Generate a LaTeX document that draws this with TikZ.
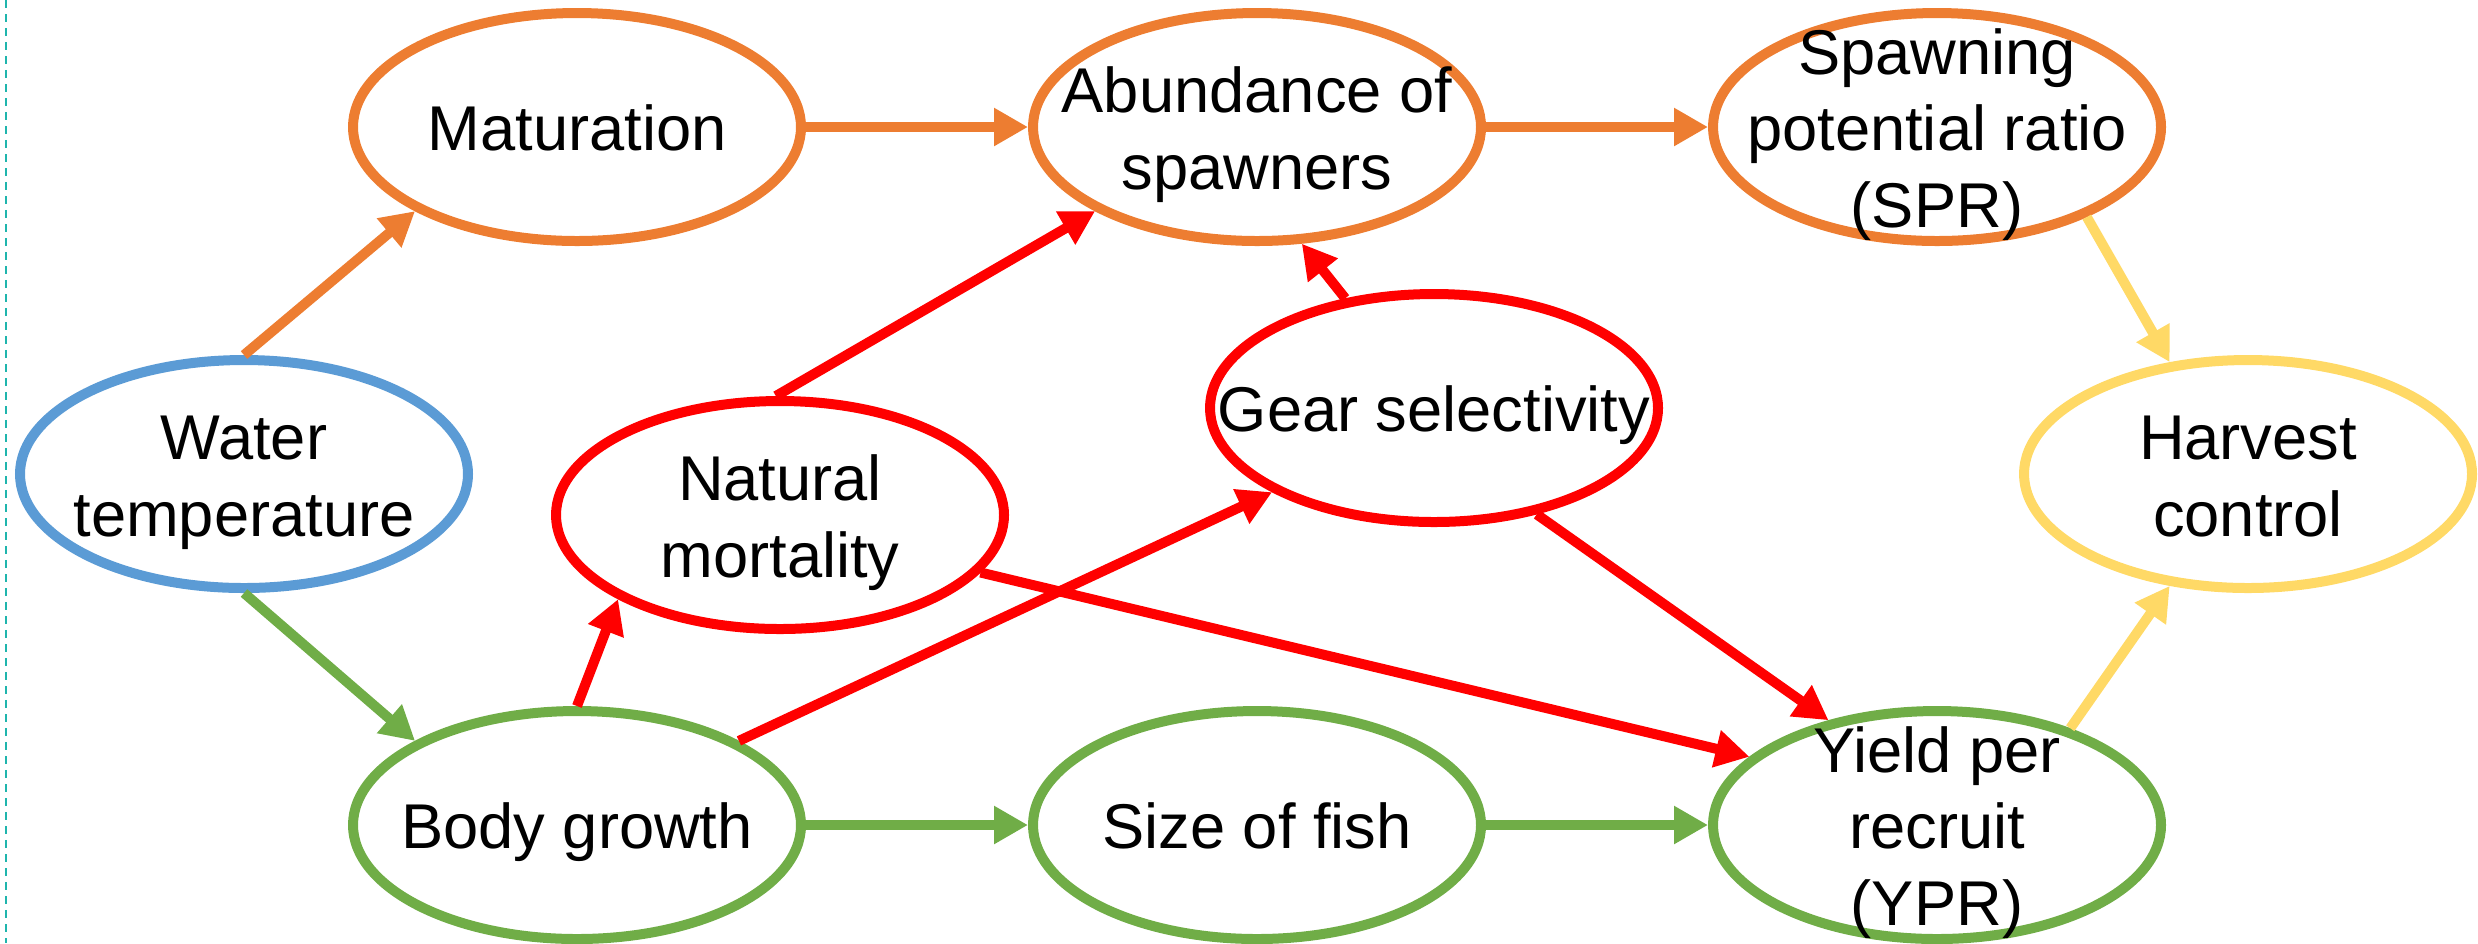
\documentclass[tikz,border=0pt]{standalone}
\usepackage{fontspec}
\setmainfont{Liberation Sans}
\usepackage{tikz}
\usetikzlibrary{arrows.meta,positioning,shapes.geometric}

\definecolor{ppOrange}{HTML}{ED7D31}
\definecolor{ppBlue}{HTML}{5B9BD5}
\definecolor{ppGreen}{HTML}{70AD47}
\definecolor{ppRed}{HTML}{FF0000}
\definecolor{ppYellow}{HTML}{FFD966}
\definecolor{ppTeal}{HTML}{1FB5AD}
\newcommand{\lnstrut}{\rule[-4pt]{0pt}{21.6pt}}

\begin{document}
\begin{tikzpicture}[
    >={Triangle[length=0.34cm,width=0.36cm]},
    node distance=6.8cm,
    factor/.style={draw, ellipse, line width=0.1cm, minimum width=4.48cm,
        minimum height=2.28cm, inner xsep=-2cm, inner ysep=-1cm, align=center,
        font=\fontsize{18}{21.8}\selectfont},
    link/.style={->, line width=0.1cm}
]
\useasboundingbox (0,0) rectangle (24.78,-9.43);

% Margin
\draw[ppTeal, line width=0.02cm, dash pattern=on 0.08cm off 0.06cm] (0.06,0) -- (0.06,-9.43);

% Factors
\node[factor, draw=ppOrange]              (MAT) at (5.77,-1.27) {\lnstrut Maturation};
\node[factor, draw=ppOrange, right of=MAT] (AS)  {\lnstrut Abundance of\\spawners\lnstrut};
\node[factor, draw=ppOrange, right of=AS]  (SPR) {\lnstrut Spawning\\potential ratio\\(SPR)\lnstrut};
\node[factor, draw=ppBlue]   (WT)  at (2.44,-4.74)  {\lnstrut Water\\temperature\lnstrut};
\node[factor, draw=ppRed]    (NM)  at (7.80,-5.15)  {\lnstrut Natural\\mortality\lnstrut};
\node[factor, draw=ppRed]    (GS)  at (14.34,-4.08) {\lnstrut Gear selectivity};
\node[factor, draw=ppYellow] (HC)  at (22.48,-4.74) {\lnstrut Harvest\\control\lnstrut};
\node[factor, draw=ppGreen]               (BG) at (5.77,-8.25) {\lnstrut Body growth};
\node[factor, draw=ppGreen, right of=BG]  (SF)  {\lnstrut Size of fish};
\node[factor, draw=ppGreen, right of=SF]  (YPR) {\lnstrut Yield per\\recruit\\(YPR)\lnstrut};

% Links
\path (WT.north)      edge[link, ppOrange] (MAT.south west)
      (MAT.east)      edge[link, ppOrange] (AS.west)
      (AS.east)       edge[link, ppOrange] (SPR.west)
      (WT.south)      edge[link, ppGreen]  (BG.north west)
      (BG.east)       edge[link, ppGreen]  (SF.west)
      (SF.east)       edge[link, ppGreen]  (YPR.west)
      (NM.92)         edge[link, ppRed]    (AS.south west)
      (BG.north)      edge[link, ppRed]    (NM.south west)
      (BG.north east) edge[link, ppRed]    (GS.south west)
      (NM.-16)        edge[link, ppRed]    (YPR.160)
      (GS.129)        edge[link, ppRed]    (AS.-69)
      (GS.-46)        edge[link, ppRed]    (YPR.136)
      (SPR.-31)       edge[link, ppYellow] (HC.125)
      (YPR.36)        edge[link, ppYellow] (HC.-125);

\end{tikzpicture}
\end{document}
